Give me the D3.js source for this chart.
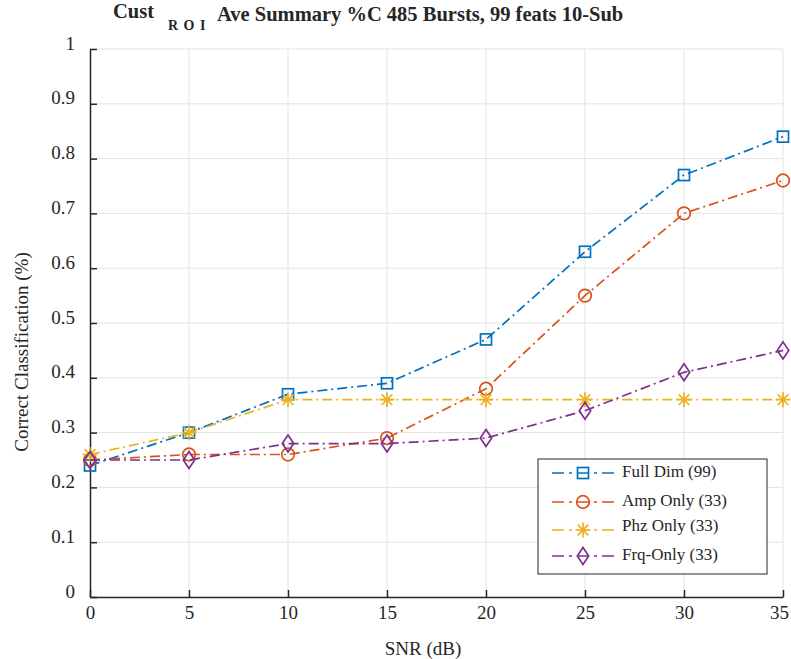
<!DOCTYPE html>
<html>
<head>
<meta charset="utf-8">
<script src="https://cdn.jsdelivr.net/npm/d3@7"></script>
<style>
  body { margin: 0; background: #fff; }
  svg text { font-family: "Liberation Serif", "Times New Roman", serif; fill: #262626; }
</style>
</head>
<body>
<div id="chart"></div>
<script>
// chart values
var snr = [0, 5, 10, 15, 20, 25, 30, 35];
var fullDim = [0.24, 0.30, 0.37, 0.39, 0.47, 0.63, 0.77, 0.84];
var ampOnly = [0.25, 0.26, 0.26, 0.29, 0.38, 0.55, 0.70, 0.76];
var phzOnly = [0.26, 0.30, 0.36, 0.36, 0.36, 0.36, 0.36, 0.36];
var frqOnly = [0.25, 0.25, 0.28, 0.28, 0.29, 0.34, 0.41, 0.45];
var seriesNames = ["Full Dim (99)", "Amp Only (33)", "Phz Only (33)", "Frq-Only (33)"];
var xTicks = [0, 5, 10, 15, 20, 25, 30, 35];
var yTicks = [0, 0.1, 0.2, 0.3, 0.4, 0.5, 0.6, 0.7, 0.8, 0.9, 1];

var w = 791, h = 659;
var margin = { top: 49, right: 8, bottom: 62, left: 90 };
var width = w - margin.left - margin.right;
var height = h - margin.top - margin.bottom;

var svg = d3.select("#chart").append("svg")
  .attr("width", w)
  .attr("height", h);

var chartGroup = svg.append("g")
  .attr("transform", `translate(${margin.left}, ${margin.top})`);

var xScale = d3.scaleLinear().domain([0, 35]).range([0, width]);
var yScale = d3.scaleLinear().domain([0, 1]).range([height, 0]);

// grid
chartGroup.selectAll("line.gx").data(xTicks.slice(1)).enter().append("line")
  .attr("x1", d => xScale(d)).attr("x2", d => xScale(d))
  .attr("y1", 0).attr("y2", height)
  .attr("stroke", "#e3e3e3").attr("stroke-width", 1);
chartGroup.selectAll("line.gy").data(yTicks.slice(1)).enter().append("line")
  .attr("x1", 0).attr("x2", width)
  .attr("y1", d => yScale(d)).attr("y2", d => yScale(d))
  .attr("stroke", "#e3e3e3").attr("stroke-width", 1);

// axes
var bottomAxis = d3.axisBottom(xScale).tickValues(xTicks).tickSize(-7).tickSizeOuter(0).tickPadding(9).tickFormat(d3.format("d"));
var leftAxis = d3.axisLeft(yScale).tickValues(yTicks).tickSize(-7).tickSizeOuter(0).tickPadding(15).tickFormat(d => d === 0 || d === 1 ? d : d3.format(".1f")(d));

var xAxis = chartGroup.append("g")
  .attr("transform", `translate(0, ${height})`)
  .call(bottomAxis);
var yAxis = chartGroup.append("g").call(leftAxis);

[xAxis, yAxis].forEach(function(a) {
  a.select(".domain").attr("stroke", "#262626").attr("stroke-width", 1.5);
  a.selectAll(".tick line").attr("stroke", "#262626").attr("stroke-width", 1.5);
  a.selectAll(".tick text").attr("font-size", 19).attr("fill", "#262626")
    .style("font-family", "'Liberation Serif', serif");
});
yAxis.selectAll(".tick text").attr("dy", "0em");
xAxis.selectAll(".tick text").filter(d => d === 35).attr("dx", -4);

// axis labels
svg.append("text")
  .attr("x", 423)
  .attr("y", 655)
  .attr("text-anchor", "middle")
  .attr("font-size", 19)
  .text("SNR (dB)");

svg.append("text")
  .attr("transform", "translate(28, 352) rotate(-90)")
  .attr("text-anchor", "middle")
  .attr("font-size", 19)
  .text("Correct Classification (%)");

// title
var title = svg.append("text")
  .attr("font-weight", "bold")
  .attr("font-size", 20.5);
title.append("tspan").attr("x", 113).attr("y", 18).text("Cust");
title.append("tspan").attr("x", 168).attr("y", 30).attr("font-size", 14).attr("letter-spacing", 1).text("R O I");
title.append("tspan").attr("x", 217).attr("y", 21).text("Ave Summary %C 485 Bursts, 99 feats 10-Sub");

// series
var colors = ["#0072BD", "#D95319", "#EDB120", "#7E2F8E"];
var markers = ["square", "circle", "star", "diamond"];
var allSeries = [fullDim, ampOnly, phzOnly, frqOnly];

function drawMarker(g, type, color) {
  if (type === "square") {
    g.append("rect").attr("x", -5.5).attr("y", -5.5).attr("width", 11).attr("height", 11)
      .attr("fill", "none").attr("stroke", color).attr("stroke-width", 1.7);
  } else if (type === "circle") {
    g.append("circle").attr("r", 6.3)
      .attr("fill", "none").attr("stroke", color).attr("stroke-width", 1.7);
  } else if (type === "star") {
    var r = 7.5;
    var p = "";
    [0, 45, 90, 135].forEach(function(a) {
      var rad = a * Math.PI / 180;
      p += "M" + (-r * Math.cos(rad)) + "," + (-r * Math.sin(rad)) + "L" + (r * Math.cos(rad)) + "," + (r * Math.sin(rad));
    });
    g.append("path").attr("d", p).attr("stroke", color).attr("stroke-width", 1.7).attr("fill", "none");
  } else {
    g.append("path").attr("d", "M0,-8.5L5.7,0L0,8.5L-5.7,0Z")
      .attr("fill", "none").attr("stroke", color).attr("stroke-width", 1.7);
  }
}

var line = d3.line()
  .x((d, i) => xScale(snr[i]))
  .y(d => yScale(d));

allSeries.forEach(function(vals, k) {
  chartGroup.append("path")
    .datum(vals)
    .attr("d", line)
    .attr("fill", "none")
    .attr("stroke", colors[k])
    .attr("stroke-width", 1.7)
    .attr("stroke-dasharray", "10,4,2,4");
  vals.forEach(function(v, i) {
    var g = chartGroup.append("g")
      .attr("transform", `translate(${xScale(snr[i])}, ${yScale(v)})`);
    drawMarker(g, markers[k], colors[k]);
  });
});

// legend
var legend = svg.append("g").attr("transform", "translate(538, 459)");
legend.append("rect")
  .attr("width", 229).attr("height", 115)
  .attr("fill", "#fff").attr("stroke", "#262626").attr("stroke-width", 1);
var legendY = [14, 43, 71, 97];
seriesNames.forEach(function(name, k) {
  var row = legend.append("g").attr("transform", `translate(0, ${legendY[k]})`);
  row.append("line")
    .attr("x1", 14).attr("x2", 78)
    .attr("stroke", colors[k]).attr("stroke-width", 1.7)
    .attr("stroke-dasharray", "12,5,3,5");
  var m = row.append("g").attr("transform", "translate(45, 0)");
  drawMarker(m, markers[k], colors[k]);
  row.append("text")
    .attr("x", 84).attr("y", k === 2 ? 1 : 4)
    .attr("font-size", 17)
    .text(name);
});
</script>
</body>
</html>
